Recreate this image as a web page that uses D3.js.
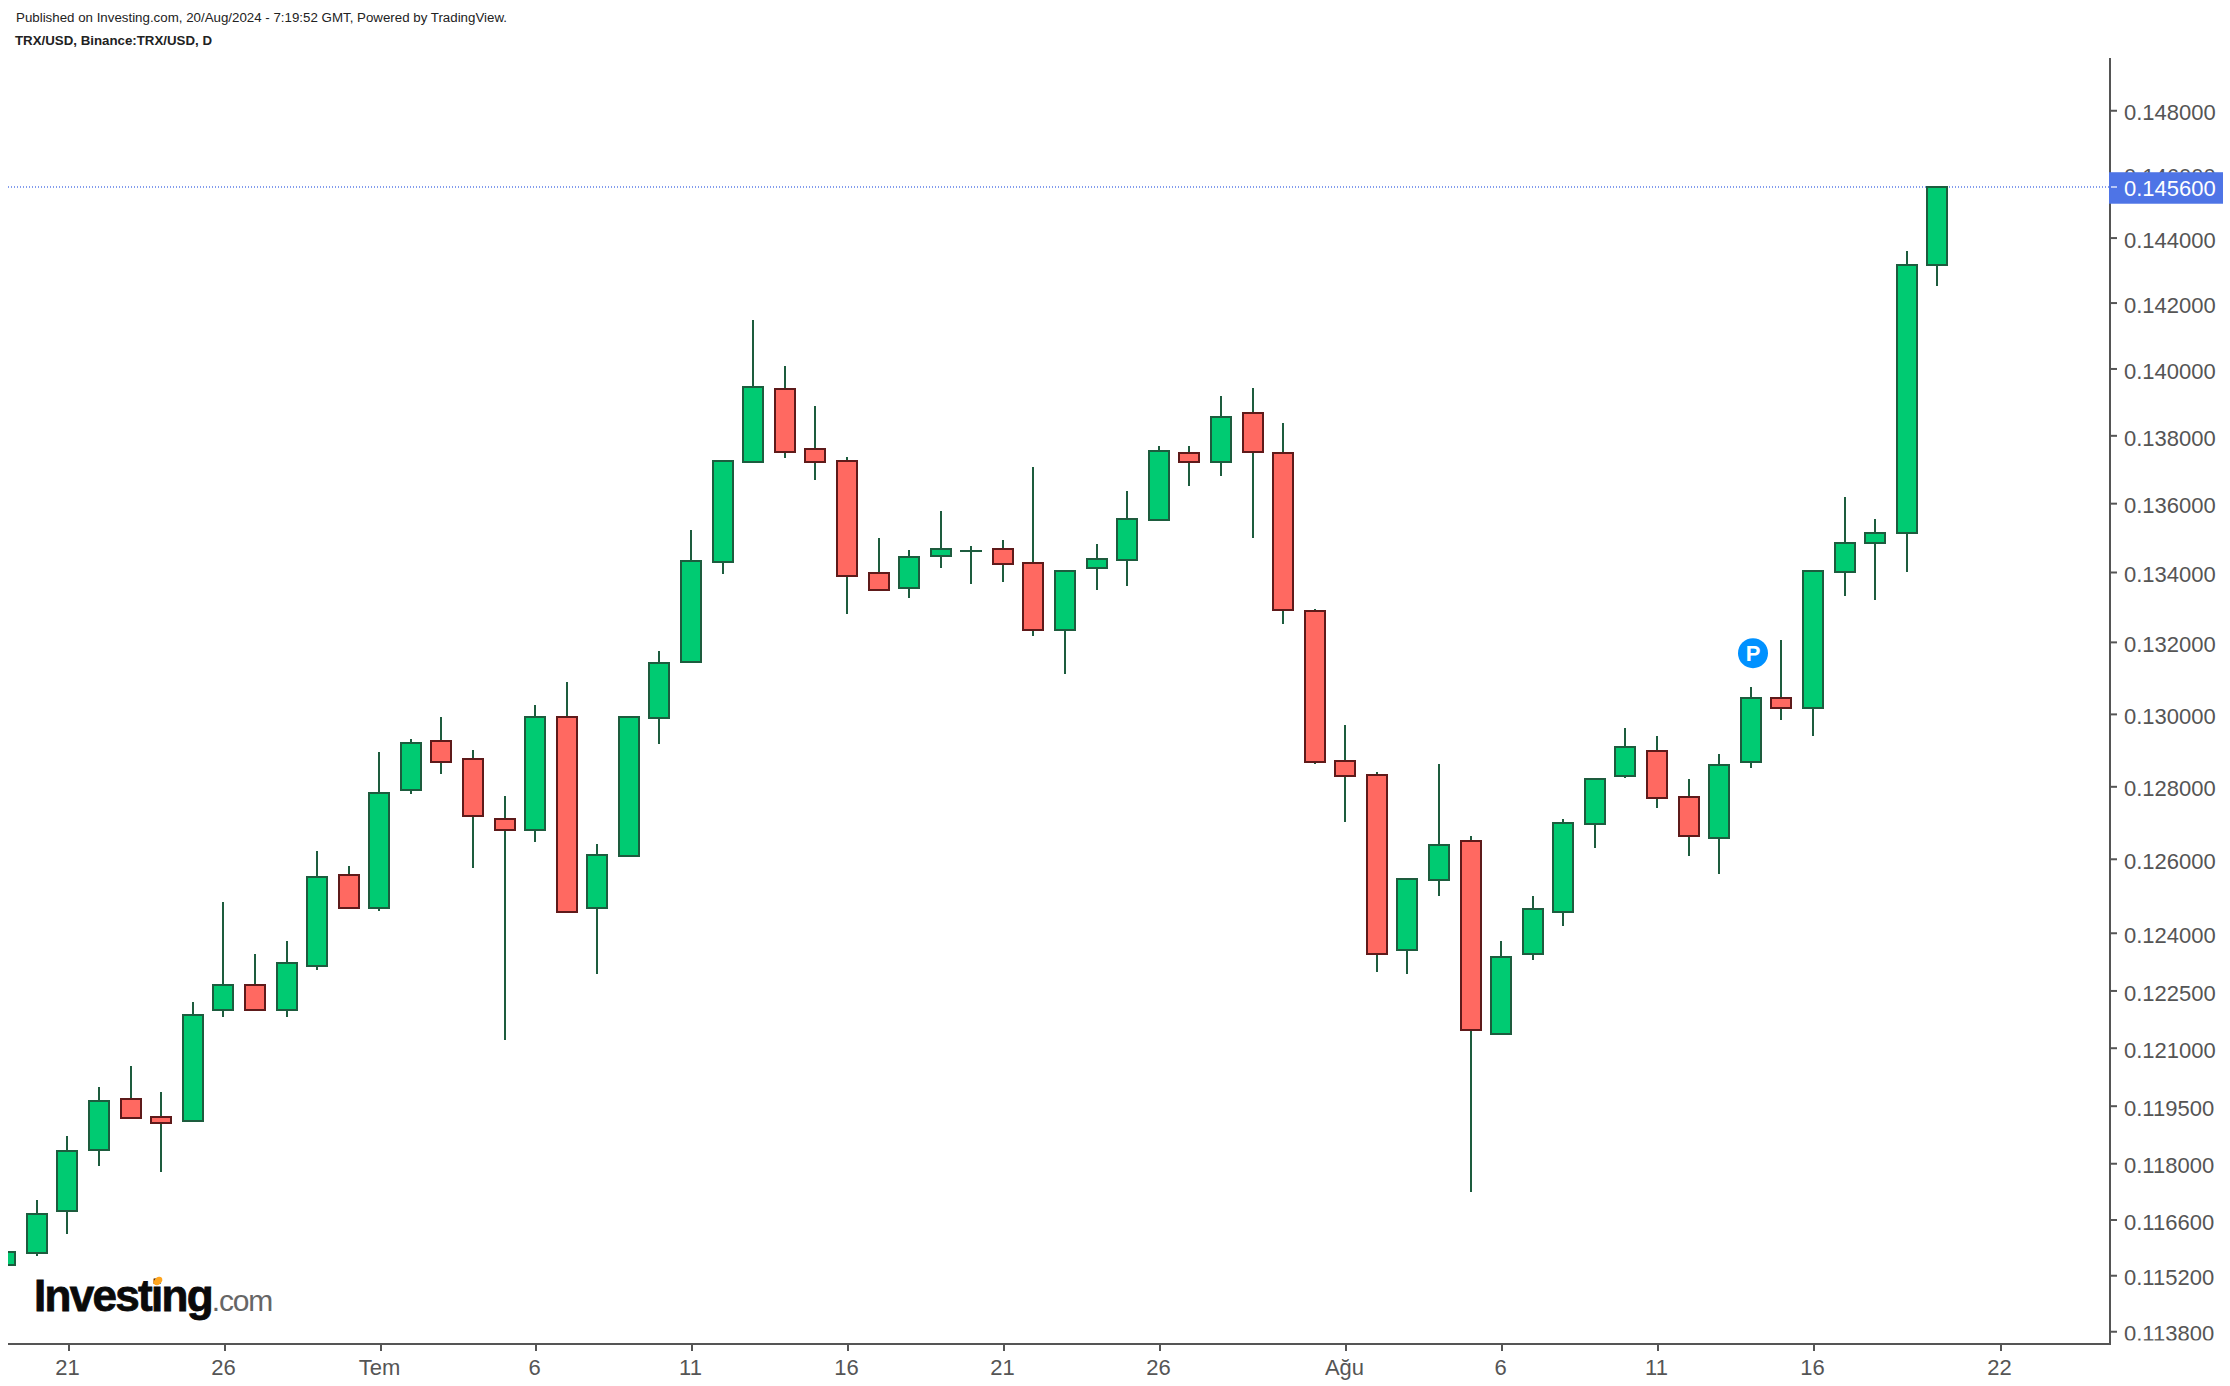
<!DOCTYPE html>
<html>
<head>
<meta charset="utf-8">
<script src="https://cdn.jsdelivr.net/npm/d3@7"></script>
<style>
  body { margin: 0; background: #fff; }
  svg { display: block; }
  text { font-family: "Liberation Sans", Arial, sans-serif; }
  .axis text { font-size: 22px; fill: #555; }
  .axis line, .axis path, .axis-line { stroke: #555; stroke-width: 2; }
</style>
</head>
<body>
<script>
// one entry per day, 19 Jun 2024 .. 20 Aug 2024
var days = d3.utcDay.range(new Date(Date.UTC(2024, 5, 19)), new Date(Date.UTC(2024, 7, 21)));

var opens = [
  0.11546, 0.11575, 0.11680, 0.11836, 0.11965, 0.11919, 0.11908, 0.12198, 0.12263, 0.12198, 0.12314, 0.12557,
  0.12469, 0.12789, 0.12923, 0.12874, 0.12709, 0.12680, 0.12990, 0.12469, 0.12609, 0.12989, 0.13146, 0.13433,
  0.13725, 0.13941, 0.13762, 0.13726, 0.13400, 0.13358, 0.13450, 0.13463, 0.13469, 0.13429, 0.13237, 0.13415,
  0.13438, 0.13554, 0.13750, 0.13725, 0.13870, 0.13750, 0.13291,
  0.12868, 0.12830, 0.12356, 0.12544, 0.12649, 0.12135, 0.12346, 0.12458, 0.12696, 0.12828, 0.12896, 0.12769,
  0.12658, 0.12867, 0.13045, 0.13017, 0.13404, 0.13486, 0.13515, 0.14317
];
var closes = [
  0.11578, 0.11674, 0.11832, 0.11960, 0.11918, 0.11903, 0.12184, 0.12263, 0.12198, 0.12321, 0.12551, 0.12469,
  0.12780, 0.12918, 0.12867, 0.12718, 0.12680, 0.12990, 0.12458, 0.12611, 0.12990, 0.13143, 0.13434, 0.13726,
  0.13947, 0.13754, 0.13725, 0.13392, 0.13352, 0.13446, 0.13469, 0.13463, 0.13427, 0.13237, 0.13405, 0.13440,
  0.13556, 0.13756, 0.13725, 0.13857, 0.13754, 0.13295, 0.12867,
  0.12828, 0.12346, 0.12546, 0.12638, 0.12146, 0.12337, 0.12465, 0.12698, 0.12818, 0.12907, 0.12767, 0.12663,
  0.12857, 0.13045, 0.13017, 0.13405, 0.13487, 0.13516, 0.14317, 0.14560
];
var highs = [
  0.11590, 0.11708, 0.11870, 0.11998, 0.12050, 0.11983, 0.12217, 0.12483, 0.12344, 0.12381, 0.12623, 0.12580,
  0.12893, 0.12931, 0.12992, 0.12898, 0.12771, 0.13026, 0.13088, 0.12640, 0.12990, 0.13178, 0.13524, 0.13726,
  0.14149, 0.14009, 0.13889, 0.13740, 0.13500, 0.13466, 0.13581, 0.13477, 0.13495, 0.13710, 0.13405, 0.13483,
  0.13640, 0.13770, 0.13770, 0.13919, 0.13943, 0.13841, 0.13298,
  0.12970, 0.12837, 0.12546, 0.12859, 0.12662, 0.12381, 0.12499, 0.12710, 0.12818, 0.12959, 0.12937, 0.12820,
  0.12887, 0.13076, 0.13207, 0.13405, 0.13622, 0.13558, 0.14363, 0.14560
];
var lows = [
  0.11530, 0.11568, 0.11622, 0.11794, 0.11918, 0.11779, 0.11908, 0.12180, 0.12198, 0.12180, 0.12302, 0.12469,
  0.12461, 0.12777, 0.12832, 0.12575, 0.12119, 0.12646, 0.12458, 0.12292, 0.12609, 0.12915, 0.13146, 0.13396,
  0.13725, 0.13735, 0.13670, 0.13282, 0.13352, 0.13328, 0.13414, 0.13368, 0.13374, 0.13219, 0.13112, 0.13351,
  0.13362, 0.13554, 0.13653, 0.13682, 0.13501, 0.13253, 0.12860,
  0.12700, 0.12297, 0.12292, 0.12500, 0.11728, 0.12135, 0.12329, 0.12419, 0.12630, 0.12821, 0.12739, 0.12608,
  0.12559, 0.12848, 0.12982, 0.12938, 0.13334, 0.13322, 0.13403, 0.14253
];

var priceTicks = [
  0.148, 0.146, 0.144, 0.142, 0.140, 0.138, 0.136, 0.134, 0.132, 0.12997, 0.12796, 0.12598,
  0.12399, 0.12246, 0.12096, 0.11946, 0.11799, 0.11657, 0.11518, 0.1138
];
var dateTicks = [
  [5, 21], [5, 26], [6, 1], [6, 6], [6, 11], [6, 16], [6, 21], [6, 26],
  [7, 1], [7, 6], [7, 11], [7, 16], [7, 22]
].map(function(d) { return new Date(Date.UTC(2024, d[0], d[1])); });
var dateLabels = ['21', '26', 'Tem', '6', '11', '16', '21', '26', 'Ağu', '6', '11', '16', '22'];

var lastPrice = 0.1456;
var pivotDay = new Date(Date.UTC(2024, 7, 14));

var width = 2230, height = 1386;
var plotLeft = 8, plotRight = 2110, plotTop = 58, plotBottom = 1344;
var green = '#00CB72', greenDark = '#1D5C3E', red = '#FF6961', redDark = '#5E1A1A', blue = '#4E74E6';

var svg = d3.select('body').append('svg').attr('width', width).attr('height', height);

svg.append('defs').append('clipPath').attr('id', 'plot')
  .append('rect')
    .attr('x', plotLeft).attr('y', 0)
    .attr('width', plotRight - plotLeft).attr('height', plotBottom);

var x = d3.scaleUtc()
  .domain([new Date(Date.UTC(2024, 5, 20)), new Date(Date.UTC(2024, 7, 20))])
  .range([36.77, 1937.53]);
var y = d3.scaleLog()
  .domain([0.1135, 0.14969])
  .range([plotBottom, plotTop]);

// candles sit on odd pixels so the 2px strokes stay sharp
var cx = function(d) { return 2 * Math.floor(x(d) / 2) + 1; };
var py = function(v) { return Math.round(y(v) + 0.5); };

// header
svg.append('text')
  .attr('x', 16).attr('y', 22)
  .attr('font-size', 12.5).attr('fill', '#222')
  .attr('textLength', 491).attr('lengthAdjust', 'spacingAndGlyphs')
  .text('Published on Investing.com, 20/Aug/2024 - 7:19:52 GMT, Powered by TradingView.');
svg.append('text')
  .attr('x', 15).attr('y', 45)
  .attr('font-size', 12.5).attr('font-weight', 'bold').attr('fill', '#222')
  .attr('textLength', 197).attr('lengthAdjust', 'spacingAndGlyphs')
  .text('TRX/USD, Binance:TRX/USD, D');

// last price line
svg.append('line')
  .attr('x1', plotLeft).attr('x2', plotRight)
  .attr('y1', py(lastPrice)).attr('y2', py(lastPrice))
  .attr('stroke', blue).attr('stroke-width', 2)
  .attr('stroke-opacity', 0.7).attr('stroke-dasharray', '1 2');

// candles
var candle = svg.append('g')
  .attr('clip-path', 'url(#plot)')
  .selectAll('g')
  .data(days)
  .join('g');

candle.append('line')
  .attr('x1', function(d) { return cx(d); })
  .attr('x2', function(d) { return cx(d); })
  .attr('y1', function(d, i) { return py(highs[i]); })
  .attr('y2', function(d, i) { return py(lows[i]); })
  .attr('stroke', greenDark)
  .attr('stroke-width', 2);

candle.append('rect')
  .attr('x', function(d) { return cx(d) - 10; })
  .attr('y', function(d, i) { return py(Math.max(opens[i], closes[i])); })
  .attr('width', 20)
  .attr('height', function(d, i) {
    return Math.max(py(Math.min(opens[i], closes[i])) - py(Math.max(opens[i], closes[i])), 0.01);
  })
  .attr('fill', function(d, i) { return closes[i] >= opens[i] ? green : red; })
  .attr('stroke', function(d, i) { return closes[i] >= opens[i] ? greenDark : redDark; })
  .attr('stroke-width', 2);

// pivot marker
var pivot = svg.append('g')
  .attr('transform', 'translate(' + (cx(pivotDay) + 2) + ',' + (y(highs[days.findIndex(function(d) {
    return +d === +pivotDay;
  })]) - 33) + ')');
pivot.append('circle').attr('r', 15).attr('fill', '#0091FF');
pivot.append('text')
  .attr('text-anchor', 'middle').attr('y', 8)
  .attr('font-size', 22).attr('font-weight', 'bold').attr('fill', '#fff')
  .text('P');

// logo
var logo = svg.append('text').attr('x', 34).attr('y', 1311);
logo.append('tspan')
  .attr('font-size', 44).attr('font-weight', 'bold').attr('fill', '#0a0a0a')
  .attr('stroke', '#0a0a0a').attr('stroke-width', 0.8).attr('letter-spacing', -1.7)
  .text('Investing');
logo.append('tspan')
  .attr('font-size', 30).attr('fill', '#666').attr('letter-spacing', -1.2)
  .text('.com');
svg.append('ellipse')
  .attr('cx', 158).attr('cy', 1281)
  .attr('rx', 5).attr('ry', 3.5)
  .attr('transform', 'rotate(-45 158 1281)')
  .attr('fill', '#FFA51E');

// x axis, ticks land on whole pixels just right of the candle centres
var xTicks = x.copy()
  .range([x.range()[0] + 1, x.range()[1] + 1])
  .interpolate(d3.interpolateRound);

svg.append('g')
  .attr('class', 'axis')
  .attr('transform', 'translate(0,' + plotBottom + ')')
  .call(d3.axisBottom(xTicks)
    .tickValues(dateTicks)
    .tickFormat(function(d, i) { return dateLabels[i]; })
    .tickSize(7).tickPadding(8).tickSizeOuter(0).offset(0))
  .call(function(g) {
    g.select('.domain').remove();
    g.selectAll('text').attr('dx', -1.5);
  });

svg.append('line')
  .attr('class', 'axis-line')
  .attr('x1', plotLeft).attr('x2', plotRight + 1)
  .attr('y1', plotBottom).attr('y2', plotBottom);

// y axis
svg.append('g')
  .attr('class', 'axis')
  .attr('transform', 'translate(' + plotRight + ',0)')
  .call(d3.axisRight(y)
    .tickValues(priceTicks)
    .tickFormat(function(d) { return d.toFixed(4) + '00'; })
    .tickSize(7).tickPadding(7).tickSizeOuter(0).offset(0))
  .call(function(g) {
    g.selectAll('text').attr('dy', '0.44em');
  });

// the lowest price label is cut off by the pane edge
svg.append('rect')
  .attr('x', plotRight + 2).attr('y', 1340.5)
  .attr('width', width - plotRight - 2).attr('height', 12)
  .attr('fill', '#fff');

// last price label
svg.append('rect')
  .attr('x', 2109).attr('y', y(lastPrice) - 14.5)
  .attr('width', 114).attr('height', 31.5)
  .attr('fill', blue);
svg.append('line')
  .attr('x1', plotRight + 1).attr('x2', plotRight + 7)
  .attr('y1', py(lastPrice)).attr('y2', py(lastPrice))
  .attr('stroke', '#fff').attr('stroke-opacity', 0.6).attr('stroke-width', 2);
svg.append('text')
  .attr('x', 2124).attr('y', y(lastPrice))
  .attr('dy', '0.44em')
  .attr('font-size', 22).attr('fill', '#fff')
  .text(lastPrice.toFixed(6));
</script>
</body>
</html>
